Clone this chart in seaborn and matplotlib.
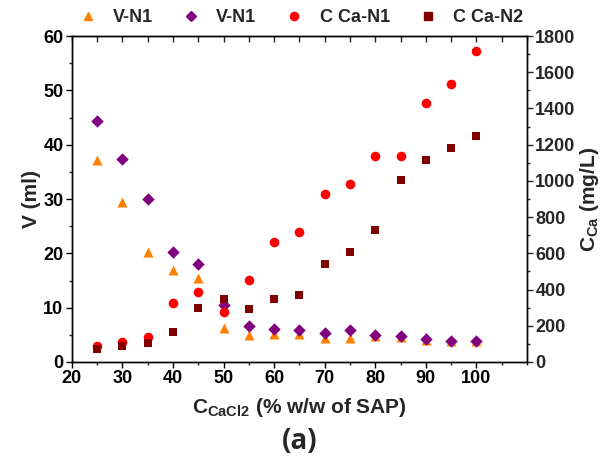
import numpy as np
import pandas as pd
import matplotlib
matplotlib.use("Agg")
import matplotlib.pyplot as plt
from matplotlib.ticker import MultipleLocator
from matplotlib.lines import Line2D
import seaborn as sns

# CaCl2 dosage (% w/w of SAP)
c_cacl2 = [25, 30, 35, 40, 45, 50, 55, 60, 65, 70, 75, 80, 85, 90, 95, 100]
# Volume (ml), left axis
v_n1_a = [37.1, 29.5, 20.2, 16.9, 15.5, 6.2, 5.0, 5.1, 5.1, 4.5, 4.5, 4.7, 4.6, 4.1, 3.9, 3.9]
v_n1_b = [44.4, 37.3, 30.0, 20.3, 18.0, 10.4, 6.6, 6.1, 5.8, 5.4, 5.8, 5.0, 4.7, 4.2, 3.9, 3.9]
# Calcium concentration (mg/L), right axis
c_ca_n1 = [89, 111, 138, 326, 388, 278, 451, 662, 717, 926, 983, 1139, 1139, 1432, 1537, 1717]
c_ca_n2 = [74, 89, 104, 163, 300, 348, 295, 350, 372, 539, 610, 728, 1007, 1115, 1183, 1250]

labels = ["V-N1", "V-N1", "C Ca-N1", "C Ca-N2"]
colors = ["#FF8000", "#800080", "#FF0000", "#800000"]
markers = ["^", "D", "o", "s"]
sizes = [52, 40, 48, 40]

sns.set_style("white")
plt.rcParams["font.family"] = ["Liberation Sans", "DejaVu Sans"]
plt.rcParams["font.weight"] = "bold"

df = pd.DataFrame({"x": c_cacl2, "a": v_n1_a, "b": v_n1_b, "c": c_ca_n1, "d": c_ca_n2})

fig = plt.figure(figsize=(6.12, 4.68), dpi=100)
ax = fig.add_axes([0.1173, 0.2265, 0.7437, 0.6965])
ax2 = ax.twinx()

sns.scatterplot(data=df, x="x", y="a", ax=ax, color=colors[0], marker=markers[0], s=sizes[0], linewidth=0)
sns.scatterplot(data=df, x="x", y="b", ax=ax, color=colors[1], marker=markers[1], s=sizes[1], linewidth=0)
sns.scatterplot(data=df, x="x", y="c", ax=ax2, color=colors[2], marker=markers[2], s=sizes[2], linewidth=0)
sns.scatterplot(data=df, x="x", y="d", ax=ax2, color=colors[3], marker=markers[3], s=sizes[3], linewidth=0)

ax.set_xlim(20, 110)
ax.set_ylim(0, 60)
ax2.set_ylim(0, 1800)

ax.set_xticks(np.arange(20, 101, 10))
ax.xaxis.set_minor_locator(MultipleLocator(5))
ax.yaxis.set_major_locator(MultipleLocator(10))
ax.yaxis.set_minor_locator(MultipleLocator(5))
ax2.yaxis.set_major_locator(MultipleLocator(200))
ax2.yaxis.set_minor_locator(MultipleLocator(100))

for a in (ax, ax2):
    for s in a.spines.values():
        s.set_color("black")
        s.set_linewidth(1.0)

ax.tick_params(axis="both", which="major", direction="out", length=4, width=1, labelsize=13, colors="black", pad=2)
ax.tick_params(axis="both", which="minor", direction="out", length=2.5, width=1)
ax.tick_params(axis="x", bottom=True, which="both")
ax.tick_params(axis="y", left=True, which="both")
ax2.tick_params(axis="y", which="major", direction="out", length=4, width=1, labelsize=13, right=True, pad=2)
ax2.tick_params(axis="y", which="minor", direction="out", length=2.5, width=1, right=True)

# top axis: inward ticks without labels
top = ax.secondary_xaxis("top")
top.xaxis.set_major_locator(MultipleLocator(5))
top.tick_params(axis="x", which="major", direction="in", length=4, width=1, labeltop=False)

for lab in ax.get_xticklabels() + ax.get_yticklabels() + ax2.get_yticklabels():
    lab.set_fontweight("bold")

ax.set_xlabel(r"C$_{\mathregular{CaCl2}}$ (% w/w of SAP)", fontsize=15, fontweight="bold", labelpad=6)
ax.set_ylabel("V (ml)", fontsize=15, fontweight="bold", labelpad=2)
ax2.set_ylabel(r"C$_{\mathregular{Ca}}$ (mg/L)", fontsize=15, fontweight="bold", labelpad=2)

handles = [Line2D([], [], linestyle="none", marker=m, color=c, markersize=np.sqrt(s) * 0.85)
           for m, c, s in zip(markers, colors, sizes)]
leg = fig.legend(handles, labels, loc="center", bbox_to_anchor=(0.49, 0.962), ncol=4,
                 frameon=False, prop={"weight": "bold", "size": 13},
                 handletextpad=0.8, columnspacing=1.5, handlelength=1.2)

fig.text(0.49, 0.057, "(a)", ha="center", va="center", fontsize=20, fontweight="bold",
         family=["Open Sans", "DejaVu Sans"])

fig.savefig("out.png", dpi=100)
